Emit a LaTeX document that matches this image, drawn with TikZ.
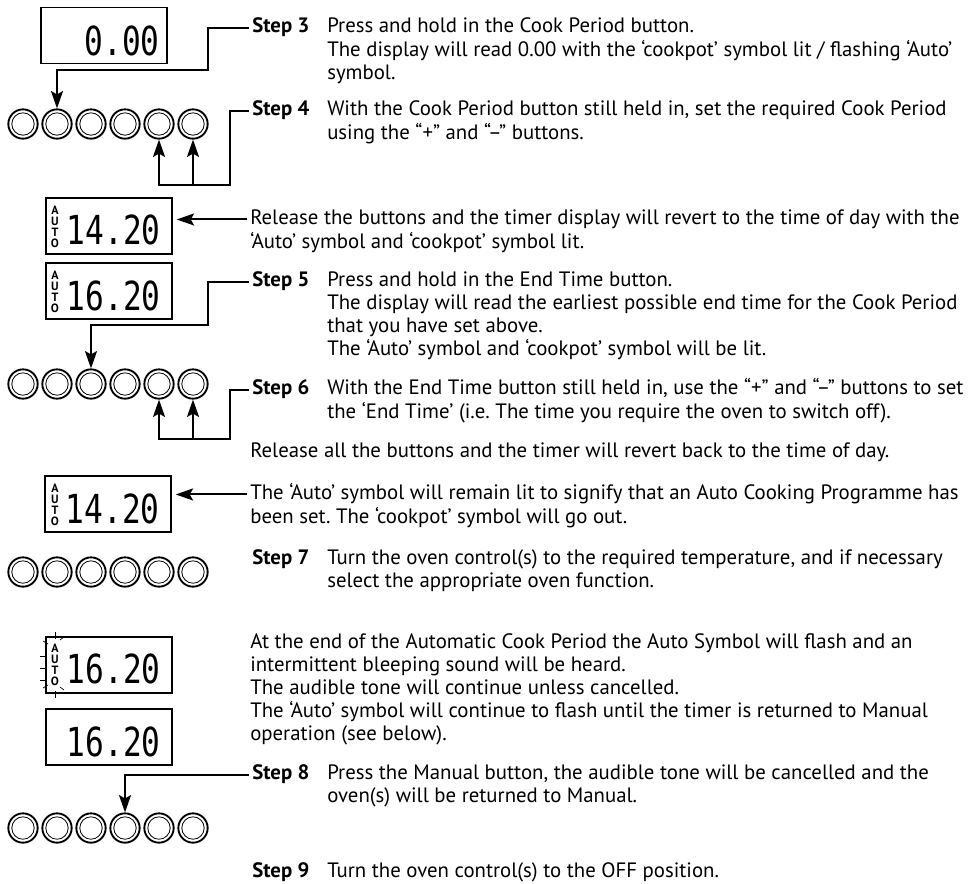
\documentclass[tikz,border=0pt]{standalone}
\usepackage{fontspec}
\setmainfont{PT Sans}
\newfontfamily\lcdfont[FakeStretch=0.78]{DejaVu Sans Mono}
\usepackage{tikz}
\usetikzlibrary{arrows.meta, positioning, calc}
\frenchspacing

\tikzset{
  lcdbox/.style={draw, line width=1.1pt, minimum width=94.5pt, minimum height=42pt, inner sep=0pt},
  lcdnum/.style={font=\lcdfont\fontsize{30}{30}\selectfont, inner sep=0pt, anchor=east},
  autotag/.style={font=\bfseries\fontsize{9}{8.3}\selectfont, align=center, inner sep=0pt},
  knob/.style={circle, draw, line width=1.4pt, minimum size=22pt, inner sep=0pt,
    path picture={\draw[line width=0.6pt] (path picture bounding box.center) circle[radius=8.4pt];}},
  steplabel/.style={font=\bfseries\fontsize{15.6}{17.25}\selectfont, anchor=north west, inner sep=0pt},
  bodytext/.style={font=\fontsize{15.6}{17.25}\selectfont, align=left, anchor=north west, inner sep=0pt},
  lead/.style={line width=1.5pt, ->, line join=miter},
  fromtext/.style={lead, shorten <=2pt},
  flash/.style={line width=0.5pt},
}

\begin{document}
\begin{tikzpicture}[x=0.75pt, y=-0.75pt, >={Stealth[length=13pt, width=9pt, inset=2.5pt]}]
  \useasboundingbox (0,0) rectangle (969,883);

  % timer displays
  \node[lcdbox] (disp1) at (104,35.5) {};
  \node[lcdnum] (num1) at (160,41) {0.00};

  \node[lcdbox] (disp2) at (109,226) {};
  \node[autotag] (auto2) at (55,227) {A\\U\\T\\O};
  \node[lcdnum] (num2) at (161,230) {14.20};

  \node[lcdbox] (disp3) at (109,291) {};
  \node[autotag] (auto3) at (55,292) {A\\U\\T\\O};
  \node[lcdnum] (num3) at (161,296) {16.20};

  \node[lcdbox] (disp4) at (108,504) {};
  \node[autotag] (auto4) at (55,505) {A\\U\\T\\O};
  \node[lcdnum] (num4) at (160,509) {14.20};

  \node[lcdbox] (disp5) at (109,665) {};
  \node[autotag] (auto5) at (55,665) {A\\U\\T\\O};
  \node[lcdnum] (num5) at (161,669) {16.20};
  \foreach \xa/\ya/\xb/\yb in {55/632/55/639, 43/641/48/644, 60/640/64/637, 40/656/45/656,
      40/668/45/668, 40/680/45/680, 43/688/48/685, 55/691/55/698, 60/687/64/690}
    \draw[flash] (\xa,\ya) -- (\xb,\yb);

  \node[lcdbox] (disp6) at (109,737) {};
  \node[lcdnum] (num6) at (161,742) {16.20};

  % button rows
  \foreach \row/\yy in {A/124, B/384, C/572, D/828}
    \foreach \i in {1,...,6}
      \node[knob] (k\row\i) at ({23+34*(\i-1)},\yy) {};

  % instructions
  \node[steplabel] (step3) at (252,16) {\strut Step 3};
  \node[bodytext] (step3txt) at (327,16) {\strut Press and hold in the Cook Period button.\\
    The display will read 0.00 with the ‘cookpot’ symbol lit / flashing ‘Auto’\\
    symbol.};

  \node[steplabel] (step4) at (252,99) {\strut Step 4};
  \node[bodytext] (step4txt) at (327,99) {\strut With the Cook Period button still held in, set the required Cook Period\\
    using the “+” and “–” buttons.};

  \node[bodytext] (rel1) at (250,208) {\strut Release the buttons and the timer display will revert to the time of day with the\\
    ‘Auto’ symbol and ‘cookpot’ symbol lit.};

  \node[steplabel] (step5) at (252,270) {\strut Step 5};
  \node[bodytext] (step5txt) at (327,270) {\strut Press and hold in the End Time button.\\
    The display will read the earliest possible end time for the Cook Period\\
    that you have set above.\\
    The ‘Auto’ symbol and ‘cookpot’ symbol will be lit.};

  \node[steplabel] (step6) at (252,378) {\strut Step 6};
  \node[bodytext] (step6txt) at (327,378) {\strut With the End Time button still held in, use the “+” and “–” buttons to set\\
    the ‘End Time’ (i.e. The time you require the oven to switch off).};

  \node[bodytext] (rel2) at (250,441) {\strut Release all the buttons and the timer will revert back to the time of day.};

  \node[bodytext] (keep) at (250,483) {\strut The ‘Auto’ symbol will remain lit to signify that an Auto Cooking Programme has\\
    been set. The ‘cookpot’ symbol will go out.};

  \node[steplabel] (step7) at (252,548) {\strut Step 7};
  \node[bodytext] (step7txt) at (327,548) {\strut Turn the oven control(s) to the required temperature, and if necessary\\
    select the appropriate oven function.};

  \node[bodytext] (endtxt) at (250,632) {\strut At the end of the Automatic Cook Period the Auto Symbol will flash and an\\
    intermittent bleeping sound will be heard.\\
    The audible tone will continue unless cancelled.\\
    The ‘Auto’ symbol will continue to flash until the timer is returned to Manual\\
    operation (see below).};

  \node[steplabel] (step8) at (252,763) {\strut Step 8};
  \node[bodytext] (step8txt) at (327,763) {\strut Press the Manual button, the audible tone will be cancelled and the\\
    oven(s) will be returned to Manual.};

  \node[steplabel] (step9) at (252,861) {\strut Step 9};
  \node[bodytext] (step9txt) at (327,861) {\strut Turn the oven control(s) to the OFF position.};

  % connectors
  \coordinate (bend3) at (208,70);
  \draw[fromtext] (step3.west) -| (bend3) -| (kA2.north);

  \coordinate (bend4) at (230,185);
  \draw[fromtext] (step4.west) -| (bend4) -| (kA6.south);
  \draw[lead] (kA6 |- bend4) -| (kA5.south);

  \coordinate (rel1in) at ([yshift=-8.6pt]rel1.north west);
  \draw[fromtext, shorten >=3pt] (rel1in) -- (rel1in -| disp2.east);

  \coordinate (bend5) at (208,325);
  \draw[fromtext] (step5.west) -| (bend5) -| (kB3.north);

  \coordinate (bend6) at (230,439);
  \draw[fromtext] (step6.west) -| (bend6) -| (kB6.south);
  \draw[lead] (kB6 |- bend6) -| (kB5.south);

  \coordinate (keepin) at ([yshift=-8.6pt]keep.north west);
  \draw[fromtext, shorten >=3pt] (keepin) -- (keepin -| disp4.east);

  \draw[fromtext] (step8.west) -| (kD4.north);
\end{tikzpicture}
\end{document}
